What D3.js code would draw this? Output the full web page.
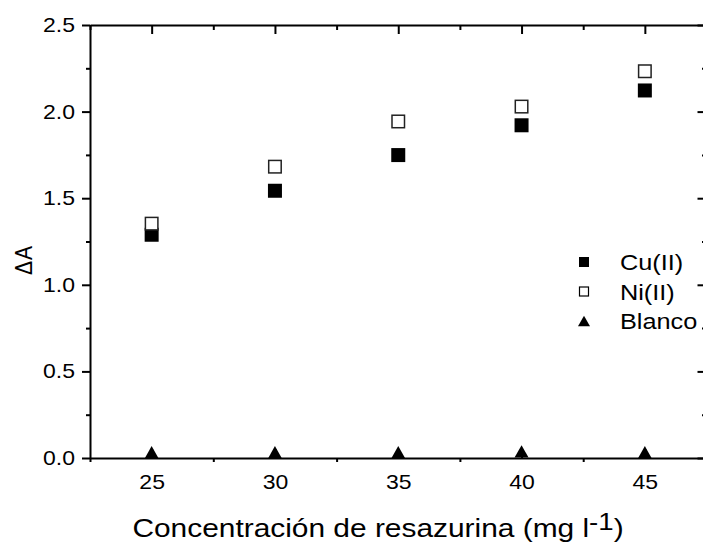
<!DOCTYPE html>
<html>
<head>
<meta charset="utf-8">
<script src="https://cdn.jsdelivr.net/npm/d3@7"></script>
<style>
  body { margin: 0; background: #fff; overflow: hidden; }
  svg text { font-family: "Liberation Sans", Arial, sans-serif; fill: #000; }
</style>
</head>
<body>
<div id="chart"></div>
<script>
// Data
const concentrations = [25, 30, 35, 40, 45];
const cuValues = [1.289, 1.543, 1.749, 1.921, 2.122];
const niValues = [1.353, 1.682, 1.943, 2.029, 2.233];
const blancoValues = [0.033, 0.033, 0.033, 0.038, 0.033];
const xTicks = [25, 30, 35, 40, 45];
const xMinorTicks = [22.5, 27.5, 32.5, 37.5, 42.5, 47.5];
const yTicks = [0, 0.5, 1.0, 1.5, 2.0, 2.5];
const yMinorTicks = [0.25, 0.75, 1.25, 1.75, 2.25];
const seriesNames = ["Cu(II)", "Ni(II)", "Blanco"];

const width = 703, height = 549;
const sx = 1.15; // text in the reference is stretched horizontally

const svg = d3.select("#chart")
    .append("svg")
    .attr("width", width)
    .attr("height", height);

const x = d3.scaleLinear().domain([22.5, 47.5]).range([90, 706.5]);
const y = d3.scaleLinear().domain([0, 2.5]).range([458, 25]);

function styleAxis(g) {
    g.select(".domain").attr("stroke-width", 2);
    g.selectAll(".tick line").attr("stroke-width", 2);
}

// Bottom axis: major ticks inward, minor outward
svg.append("g")
    .attr("transform", `translate(0,${y(0)})`)
    .call(d3.axisBottom(x).tickValues(xTicks).tickSizeInner(-9).tickSizeOuter(0).tickPadding(17))
    .call(styleAxis)
    .call(g => g.selectAll("text")
        .attr("font-size", 20)
        .attr("transform", `scale(${sx},1)`));
svg.append("g")
    .attr("transform", `translate(0,${y(0)})`)
    .call(d3.axisBottom(x).tickValues(xMinorTicks).tickSize(4).tickFormat(""))
    .call(g => g.select(".domain").remove())
    .call(styleAxis);

// Top axis (ticks only, inward)
svg.append("g")
    .attr("transform", `translate(0,${y(2.5)})`)
    .call(d3.axisTop(x).tickValues(xTicks).tickSizeInner(-9).tickSizeOuter(0).tickFormat(""))
    .call(styleAxis);
svg.append("g")
    .attr("transform", `translate(0,${y(2.5)})`)
    .call(d3.axisTop(x).tickValues(xMinorTicks).tickSize(-5).tickFormat(""))
    .call(g => g.select(".domain").remove())
    .call(styleAxis);

// Left axis: ticks outward
svg.append("g")
    .attr("transform", `translate(${x(22.5)},0)`)
    .call(d3.axisLeft(y).tickValues(yTicks).tickSizeInner(8).tickSizeOuter(0).tickPadding(7).tickFormat(d3.format(".1f")))
    .call(styleAxis)
    .call(g => g.selectAll("text")
        .attr("font-size", 20)
        .attr("x", -15 / sx)
        .attr("transform", `scale(${sx},1)`));
svg.append("g")
    .attr("transform", `translate(${x(22.5)},0)`)
    .call(d3.axisLeft(y).tickValues(yMinorTicks).tickSize(4).tickFormat(""))
    .call(g => g.select(".domain").remove())
    .call(styleAxis);

// Right axis: ticks inward (axis line falls just outside the window)
svg.append("g")
    .attr("transform", `translate(${x(47.5)},0)`)
    .call(d3.axisRight(y).tickValues(yTicks).tickSizeInner(-9).tickSizeOuter(0).tickFormat(""))
    .call(styleAxis);
svg.append("g")
    .attr("transform", `translate(${x(47.5)},0)`)
    .call(d3.axisRight(y).tickValues(yMinorTicks).tickSize(-4.5).tickFormat(""))
    .call(g => g.select(".domain").remove())
    .call(styleAxis);

function triPath(w) {
    // isosceles triangle, w wide, centred on its bounding box
    const h = w * 0.88;
    return `M0,${-h / 2}L${w / 2},${h / 2}L${-w / 2},${h / 2}Z`;
}

// Blanco triangles
svg.append("g").selectAll("path")
    .data(concentrations.map((c, i) => [c, blancoValues[i]]))
    .join("path")
    .attr("transform", d => `translate(${x(d[0])},${y(d[1])})`)
    .attr("d", triPath(14))
    .attr("fill", "#000");

// Cu(II) filled squares
const ms = 14;
svg.append("g").selectAll("rect")
    .data(concentrations.map((c, i) => [c, cuValues[i]]))
    .join("rect")
    .attr("x", d => x(d[0]) - ms / 2)
    .attr("y", d => y(d[1]) - ms / 2)
    .attr("width", ms)
    .attr("height", ms)
    .attr("fill", "#000");

// Ni(II) open squares
svg.append("g").selectAll("rect")
    .data(concentrations.map((c, i) => [c, niValues[i]]))
    .join("rect")
    .attr("x", d => x(d[0]) - ms / 2 + 0.75)
    .attr("y", d => y(d[1]) - ms / 2 + 0.75)
    .attr("width", ms - 1.5)
    .attr("height", ms - 1.5)
    .attr("fill", "#fff")
    .attr("stroke", "#222")
    .attr("stroke-width", 1.5);

// Legend
const legend = svg.append("g").attr("transform", "translate(584,262)");
const rowGap = 29.5;
legend.append("rect")
    .attr("x", -5).attr("y", -5).attr("width", 10).attr("height", 10)
    .attr("fill", "#000");
legend.append("rect")
    .attr("x", -4.5).attr("y", rowGap - 4.5).attr("width", 9).attr("height", 9)
    .attr("fill", "#fff").attr("stroke", "#000").attr("stroke-width", 1.2);
legend.append("path")
    .attr("transform", `translate(0,${rowGap * 2})`)
    .attr("d", triPath(12))
    .attr("fill", "#000");
legend.selectAll("text")
    .data(seriesNames)
    .join("text")
    .attr("transform", (d, i) => `translate(36,${i * rowGap + 8}) scale(${sx},1)`)
    .attr("font-size", 22)
    .text(d => d);

// Axis titles
const xTitle = svg.append("text")
    .attr("transform", `translate(378,537) scale(${sx},1)`)
    .attr("text-anchor", "middle")
    .attr("font-size", 26);
xTitle.append("tspan").text("Concentración de resazurina (mg l");
xTitle.append("tspan").attr("dy", -7).attr("font-size", 24).text("-1");
xTitle.append("tspan").attr("dy", 7).text(")");

svg.append("text")
    .attr("transform", "translate(32,260) rotate(-90) scale(1,1.1)")
    .attr("text-anchor", "middle")
    .attr("font-size", 21)
    .attr("letter-spacing", 1)
    .text("ΔA");
</script>
</body>
</html>
